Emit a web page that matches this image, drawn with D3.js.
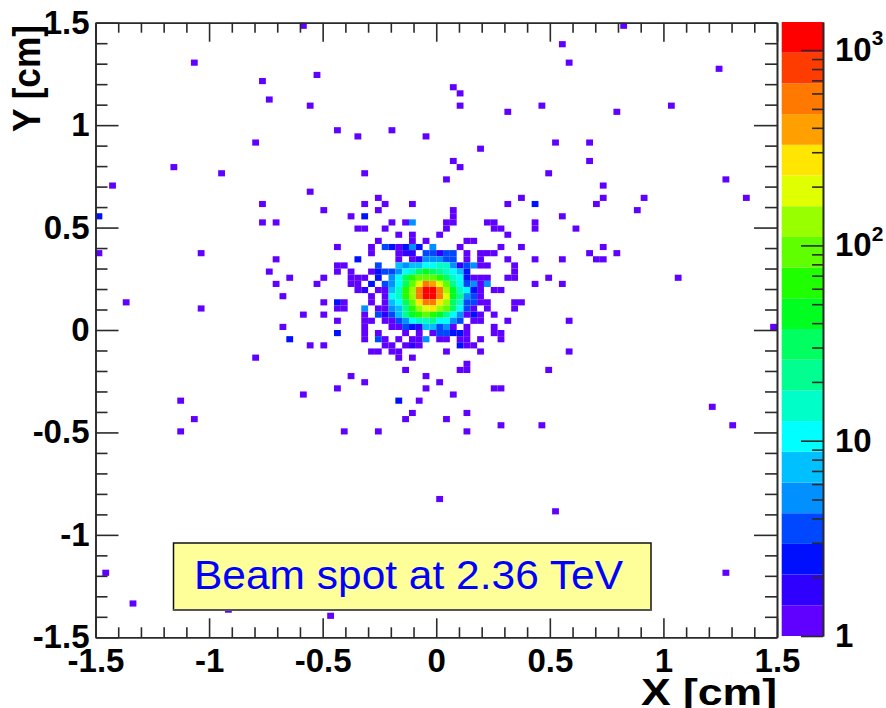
<!DOCTYPE html>
<html lang="en">
<head>
<meta charset="UTF-8" />
<title>Beam spot at 2.36 TeV</title>
<script src="https://d3js.org/d3.v7.min.js"></script>
<style>
  html, body { margin: 0; padding: 0; background: #fff; }
  svg { display: block; }
  text { font-family: "Liberation Sans", Arial, sans-serif; }
  .axis text { font-size: 33px; font-weight: bold; fill: #000; }
  .axis path, .axis line { stroke: #2a2a2a; stroke-width: 1.6; }
</style>
</head>
<body>
<div id="my_dataviz"></div>
<script>
// histogram is 100 x 100 bins between -1.5 and 1.5 cm on both axes
var binIds = d3.range(100);
var axisRange = [-1.5, 1.5];
var majorTicks = [-1.5, -1, -0.5, 0, 0.5, 1, 1.5];
var majorLabels = ["-1.5", "-1", "-0.5", "0", "0.5", "1", "1.5"];
var minorTicks = [-1.4, -1.3, -1.2, -1.1, -0.9, -0.8, -0.7, -0.6, -0.4, -0.3, -0.2, -0.1,
                  0.1, 0.2, 0.3, 0.4, 0.6, 0.7, 0.8, 0.9, 1.1, 1.2, 1.3, 1.4];

// colour bar
var countMax = 1393;
var decadeTicks = [1, 10, 100, 1000];
var decadeBase = ["1", "10", "10", "10"];
var decadePower = ["", "", "2", "3"];
var minorCountTicks = [2, 3, 4, 5, 6, 7, 8, 9, 20, 30, 40, 50, 60, 70, 80, 90,
                       200, 300, 400, 500, 600, 700, 800, 900];
var palette = ["#6000ff", "#3000ff", "#0010ff", "#0048ff", "#0090ff", "#00c0ff", "#00ffff",
               "#00ffc8", "#00ff90", "#00ff60", "#00ff20", "#20ff00", "#60ff00", "#98ff00",
               "#e0ff00", "#ffe600", "#ffa000", "#ff7800", "#ff3c00", "#ff0000"];

// isolated bins holding one entry
var singleBinX = [30, 14, 32, 24, 25, 31, 23, 11, 18, 2, 31, 24, 52, 53, 53, 60, 65, 35, 38, 43, 48, 56, 52, 53, 39, 51, 66, 41, 62,
                  77, 68, 69, 91, 84, 76, 67, 72, 72, 92, 74, 74, 80, 95, 73, 79, 68, 24, 26, 0, 15, 26, 25, 28, 26, 27, 4, 15, 30, 27,
                  31, 23, 30, 12, 14, 12, 70, 74, 72, 76, 68, 73, 74, 66, 85, 68, 69, 99, 69, 66, 90, 65, 93, 39, 35, 48, 50, 58, 59,
                  52, 47, 46, 54, 45, 51, 59, 36, 41, 54, 50, 67, 1, 5, 19, 34, 92, 32];
var singleBinY = [99, 93, 91, 90, 87, 86, 80, 76, 75, 73, 72, 70, 89, 88, 86, 85, 86, 82, 81, 82, 81, 79, 77, 76, 75, 74, 75, 71, 71,
                  99, 96, 93, 92, 86, 85, 80, 80, 77, 74, 73, 71, 71, 71, 70, 69, 68, 67, 67, 62, 62, 61, 59, 58, 57, 55, 54, 53, 52, 50,
                  47, 45, 39, 38, 35, 33, 66, 63, 62, 62, 61, 61, 61, 58, 58, 57, 51, 50, 46, 43, 37, 34, 34, 41, 40, 40, 41, 40, 40,
                  39, 38, 36, 36, 35, 35, 34, 33, 33, 33, 22, 20, 10, 5, 4, 3, 10, 57];

// isolated bins a little above one entry
var fewBinX = [0, 28, 44];
var fewBinY = [68, 48, 38];
var fewCount = [2.5, 2.5, 2.5];

// central part of the histogram: columns are x bins 33..64, rows are y bins 70 down to 42
var coreFirstX = 33;
var coreFirstY = 70;
var coreCounts = [
  [0,0,0,0,0,0,1,0,0,1,0,0,0,1,0,0,0,0,0,0,0,0,0,0,0,0,0,1,0,0,0,2.5],
  [1,0,0,0,0,0,0,0,1,0,0,0,0,0,0,0,0,0,0,1,0,0,0,0,0,0,0,0,0,0,0,0],
  [0,0,0,0,1,0,2.5,0,0,0,0,0,0,0,0,0,0,0,0,1,0,0,0,0,0,0,0,0,0,0,0,0],
  [0,0,0,0,0,0,0,0,0,0,1,0,1,5,0,0,0,0,1,1,0,0,0,0,1,1,0,0,0,0,0,1],
  [0,0,0,0,0,1,1,0,0,1,0,0,0,0,0,0,0,0,1,0,0,0,0,0,0,1,1,0,0,0,0,1],
  [0,0,0,0,0,0,0,0,0,0,0,1,0,1,0,0,0,1,0,0,0,0,0,0,0,0,0,1,0,0,0,0],
  [0,0,0,0,0,0,0,0,1,0,0,0,0,1,0,1,0,0,0,0,0,1,1,0,0,0,0,0,0,0,0,0],
  [0,0,1,0,0,0,0,1,0,3,2.5,1,2.5,5,2.5,0,5,0,0,0,1,0,0,0,0,0,1,0,0,1,0,0],
  [0,0,0,0,0,0,0,1,0,0,0,1,2,2,0,3,3,2,3,3,0,1,0,1,1,1,0,0,0,0,0,0],
  [0,0,0,0,0,2.5,0,0,0,0,0,1,0,1,2,5,5,5,3,3,0,1,0,1,0,0,0,1,0,0,0,1],
  [0,0,1,1,0,0,0,0,3,0,0,7,5,7,7,10,10,15,15,5,2,3,5,1,1,0,0,0,1,0,0,0],
  [0,0,1,0,1,0,0,1,2.5,3,3,5,10,15,32,46,32,22,15,10,7,2.5,0,0,0,0,0,0,1,0,0,0],
  [1,0,0,0,1,1,1,0,2.5,0,5,10,32,66,96,96,96,66,32,15,10,2.5,1,1,1,0,0,1,1,0,0,0],
  [0,0,0,0,1,1,0,2.5,0,3,5,10,32,96,200,600,415,200,96,22,10,3,5,1,5,0,0,0,0,0,0,1],
  [0,0,0,0,0,1,2,0,1,1,7,15,66,138,600,1200,1200,600,138,46,15,10,2.5,1,0,1,1,0,0,0,0,0],
  [0,0,0,0,0,0,0,1,0,1,10,15,66,138,600,1200,1200,600,200,46,22,5,3,1,0,0,0,0,0,0,0,0],
  [1,0,2.5,1,0,0,0,1,0,1,7,10,32,96,290,600,600,290,138,32,15,3,3,1,1,0,0,0,1,1,0,0],
  [0,0,1,1,0,0,5,0,1,1,5,7,22,66,138,200,290,138,96,32,10,3,1,0,1,0,0,0,1,0,0,0],
  [1,0,0,0,0,0,1,0,3,2,3,7,22,46,66,96,66,46,22,10,5,1,2.5,1,0,1,0,0,0,0,0,0],
  [0,0,1,0,0,0,1,1,0,1,1,3,5,10,15,15,22,10,10,5,3,0,1,1,0,0,0,1,0,0,0,0],
  [0,0,0,0,0,0,1,0,0,0,1,1,3,2.5,2,7,7,3,5,1,0,1,0,0,0,1,0,0,0,0,0,0],
  [0,0,2.5,0,0,0,1,0,1,0,0,0,1,0,1,0,1,3,3,2.5,2.5,1,0,0,0,1,1,0,0,0,0,0],
  [0,0,0,0,0,0,1,0,3,1,0,1,0,1,1,5,0,1,1,0,1,1,0,1,0,0,1,0,0,0,0,0],
  [1,0,0,0,0,0,0,0,0,1,1,0,1,2,1,0,0,0,0,0,2.5,1,1,0,0,0,0,0,0,0,0,0],
  [0,0,0,0,0,0,0,1,1,0,1,1,0,0,0,0,0,0,1,0,0,0,0,1,0,0,0,0,0,0,0,0],
  [0,0,0,0,0,0,0,0,0,0,0,1,0,1,0,0,0,0,0,0,0,0,0,0,0,0,0,0,0,0,0,0],
  [0,0,0,0,0,0,0,0,0,0,0,0,0,0,0,0,0,0,0,0,0,1,0,0,0,0,0,0,0,0,0,0],
  [0,0,0,0,0,0,0,0,0,0,0,0,1,0,0,0,0,0,0,0,1,1,0,0,0,0,0,0,0,0,0,0],
  [0,0,0,0,1,0,0,0,0,0,0,0,0,0,0,1,0,0,0,0,0,0,0,0,0,0,0,0,0,0,0,0]
];

var xAxisLabel = "X [cm]";
var yAxisLabel = "Y [cm]";
var boxLabel = "Beam spot at 2.36 TeV";

// turn the three sources into one list of cells
var cells = [];
singleBinX.forEach(function(b, i) { cells.push({ x: b, y: singleBinY[i], n: 1 }); });
fewBinX.forEach(function(b, i) { cells.push({ x: b, y: fewBinY[i], n: fewCount[i] }); });
coreCounts.forEach(function(row, r) {
  row.forEach(function(n, c) {
    if (n > 0) cells.push({ x: coreFirstX + c, y: coreFirstY - r, n: n });
  });
});

var width = 886, height = 708;
var left = 95.5, right = 777, top_ = 22.7, bottom = 637.3;
var barLeft = 781.7, barRight = 823, barTop = 22, barBottom = 636;

var svg = d3.select("#my_dataviz").append("svg")
    .attr("width", width)
    .attr("height", height);

var xBin = d3.scaleBand().domain(binIds).range([left, right]);
var yBin = d3.scaleBand().domain(binIds).range([bottom, top_]);
var x = d3.scaleLinear().domain(axisRange).range([left, right]);
var y = d3.scaleLinear().domain(axisRange).range([bottom, top_]);
var count = d3.scaleLog().domain([1, countMax]).range([barBottom, barTop]);
var colour = d3.scaleQuantize().domain([0, Math.log10(countMax)]).range(palette);

// cells
svg.append("g").selectAll("rect")
  .data(cells)
  .enter()
  .append("rect")
    .attr("x", function(d) { return xBin(d.x); })
    .attr("y", function(d) { return yBin(d.y); })
    .attr("width", xBin.bandwidth())
    .attr("height", yBin.bandwidth())
    .attr("fill", function(d) { return colour(Math.log10(d.n)); });

// frame with ticks on all four sides, all pointing inward
function labelText(d) { return majorLabels[majorTicks.indexOf(d)]; }

function addAxis(maker, scale, pos, major, minor, labelled, padding) {
  var g = svg.append("g").attr("class", "axis").attr("transform", pos);
  g.call(maker(scale).tickValues(minorTicks).tickSizeInner(-minor).tickSizeOuter(0).tickFormat(""));
  var m = svg.append("g").attr("class", "axis").attr("transform", pos);
  m.call(maker(scale).tickValues(majorTicks).tickSizeInner(-major).tickSizeOuter(0).tickPadding(padding)
      .tickFormat(labelled ? labelText : ""));
}
addAxis(d3.axisBottom, x, "translate(0," + bottom + ")", 19, 10, true, 11);
addAxis(d3.axisTop, x, "translate(0," + top_ + ")", 19, 10, false, 0);
addAxis(d3.axisLeft, y, "translate(" + left + ",0)", 23, 12, true, 6);
addAxis(d3.axisRight, y, "translate(" + right + ",0)", 23, 12, false, 0);

// colour bar
var edges = colour.range().map(function(c) { return colour.invertExtent(c); });
svg.append("g").selectAll("rect")
  .data(edges)
  .enter()
  .append("rect")
    .attr("x", barLeft)
    .attr("width", barRight - barLeft)
    .attr("y", function(d) { return count(Math.pow(10, d[1])); })
    .attr("height", function(d) { return count(Math.pow(10, d[0])) - count(Math.pow(10, d[1])); })
    .attr("fill", function(d, i) { return palette[i]; });

svg.append("g").attr("class", "axis")
    .attr("transform", "translate(" + barRight + ",0)")
    .call(d3.axisRight(count).tickValues(minorCountTicks).tickSizeInner(-11).tickSizeOuter(0).tickFormat(""));

var barAxis = svg.append("g").attr("class", "axis")
    .attr("transform", "translate(" + barRight + ",0)")
    .call(d3.axisRight(count).tickValues(decadeTicks).tickSizeInner(-22).tickSizeOuter(0).tickPadding(12).tickFormat(""));

barAxis.selectAll(".tick text").each(function(d, i) {
  var t = d3.select(this);
  t.append("tspan").text(decadeBase[i]);
  if (decadePower[i]) {
    t.append("tspan").attr("font-size", "21px").attr("dy", "-0.75em").text(decadePower[i]);
  }
});

// axis titles
svg.append("text")
    .attr("x", right)
    .attr("y", 705)
    .attr("text-anchor", "end")
    .attr("font-size", "37px")
    .attr("font-weight", "bold")
    .attr("textLength", 136)
    .attr("lengthAdjust", "spacingAndGlyphs")
    .text(xAxisLabel);

svg.append("text")
    .attr("transform", "translate(40,25) rotate(-90)")
    .attr("text-anchor", "end")
    .attr("font-size", "38px")
    .attr("font-weight", "bold")
    .attr("textLength", 107)
    .attr("lengthAdjust", "spacingAndGlyphs")
    .text(yAxisLabel);

// label box
svg.append("rect")
    .attr("x", 173.5)
    .attr("y", 543)
    .attr("width", 477.5)
    .attr("height", 67)
    .attr("fill", "#ffff99")
    .attr("stroke", "#111")
    .attr("stroke-width", 1.5);

svg.append("line")
    .attr("x1", 173).attr("x2", 651.5)
    .attr("y1", 610).attr("y2", 610)
    .attr("stroke", "#555")
    .attr("stroke-width", 2);

svg.append("text")
    .attr("x", 194)
    .attr("y", 589)
    .attr("fill", "#0000ff")
    .attr("font-size", "40px")
    .attr("textLength", 429)
    .attr("lengthAdjust", "spacingAndGlyphs")
    .text(boxLabel);
</script>
</body>
</html>
